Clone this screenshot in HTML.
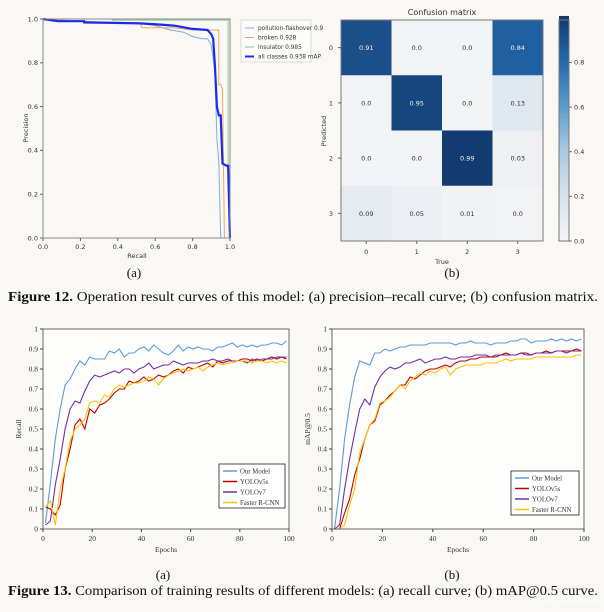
<!DOCTYPE html>
<html><head><meta charset="utf-8"><style>
html,body{margin:0;padding:0;background:#f9f8f4;}
svg{display:block}
.mpl{font-family:"DejaVu Sans","Liberation Sans",sans-serif;fill:#333}
.ser{font-family:"Liberation Serif",serif;fill:#333}
</style></head><body>
<svg id="s" width="604" height="612" viewBox="0 0 604 612" xmlns="http://www.w3.org/2000/svg">
<rect x="0" y="0" width="604" height="612" fill="#f9f8f4"/>
</svg>
<script>
// ---------- PR curve data ----------
const prClasses=["pollution-flashover 0.9","broken 0.928","insulator 0.985","all classes 0.938 mAP"];
const prColors=["#7fb0d8","#f5a35a","#8cc98c","#1a2bf0"];
const prRecall=[
[0,0.08,0.2,0.52,0.6,0.68,0.75,0.8,0.85,0.88,0.9,0.91,0.92,0.93,0.94,0.95],
[0,0.22,0.22,0.52,0.53,0.7,0.8,0.94,0.94,0.95,0.96,0.97],
[0,0.37,0.37,0.99,0.99,1.0],
[0,0.08,0.22,0.22,0.52,0.62,0.7,0.8,0.88,0.9,0.91,0.92,0.93,0.94,0.95,0.96,0.98,0.99,1.0]];
const prPrecision=[
[1,0.99,0.99,0.98,0.97,0.95,0.94,0.92,0.91,0.91,0.88,0.82,0.75,0.45,0.35,0],
[1,0.99,0.98,0.98,0.96,0.96,0.95,0.95,0.7,0.7,0.68,0],
[1,1,0.995,0.995,0.33,0],
[1,0.99,0.99,0.985,0.98,0.975,0.97,0.955,0.95,0.93,0.91,0.78,0.6,0.56,0.56,0.34,0.33,0.33,0]];
const prTicks=[0,0.2,0.4,0.6,0.8,1.0];
// ---------- Confusion matrix ----------
const cmLabels=["0","1","2","3"];
const cmValues=[[0.91,0.0,0.0,0.84],[0.0,0.95,0.0,0.13],[0.0,0.0,0.99,0.03],[0.09,0.05,0.01,0.0]];
const cbTicks=[0,0.2,0.4,0.6,0.8];
// ---------- Training curves ----------
const epochs=[1,3,5,7,9,11,13,15,17,19,21,23,25,27,29,31,33,35,37,39,41,43,45,47,49,51,53,55,57,59,61,63,65,67,69,71,73,75,77,79,81,83,85,87,89,91,93,95,97,99];
const seriesNames=["Our Model","YOLOv5s","YOLOv7","Faster R-CNN"];
const seriesColors=["#5b9bd5","#c00000","#7030a0","#ffc000"];
const recallOur=[0.03,0.23,0.45,0.6,0.72,0.75,0.8,0.84,0.82,0.86,0.85,0.85,0.85,0.89,0.88,0.9,0.86,0.88,0.88,0.9,0.91,0.89,0.92,0.9,0.88,0.87,0.89,0.92,0.89,0.91,0.9,0.91,0.9,0.9,0.89,0.91,0.91,0.92,0.93,0.91,0.92,0.91,0.92,0.91,0.92,0.92,0.93,0.93,0.92,0.94];
const recallV5=[0.11,0.1,0.07,0.12,0.3,0.4,0.52,0.55,0.5,0.6,0.58,0.62,0.63,0.65,0.68,0.7,0.7,0.74,0.73,0.74,0.76,0.74,0.75,0.77,0.76,0.77,0.79,0.8,0.78,0.81,0.8,0.81,0.82,0.83,0.81,0.84,0.83,0.84,0.84,0.84,0.85,0.85,0.84,0.85,0.84,0.85,0.86,0.85,0.86,0.85];
const recallV7=[0.02,0.04,0.22,0.35,0.5,0.6,0.64,0.63,0.69,0.74,0.77,0.76,0.77,0.78,0.79,0.78,0.8,0.8,0.78,0.8,0.81,0.83,0.8,0.81,0.82,0.82,0.84,0.83,0.82,0.83,0.83,0.83,0.84,0.84,0.85,0.84,0.84,0.85,0.84,0.84,0.84,0.83,0.85,0.84,0.85,0.85,0.85,0.86,0.86,0.86];
const recallFR=[0.11,0.14,0.02,0.2,0.3,0.44,0.5,0.52,0.55,0.63,0.64,0.63,0.67,0.66,0.7,0.72,0.71,0.72,0.73,0.73,0.74,0.76,0.75,0.72,0.75,0.77,0.78,0.79,0.8,0.79,0.8,0.81,0.79,0.81,0.82,0.83,0.82,0.83,0.83,0.84,0.84,0.84,0.83,0.84,0.84,0.83,0.84,0.83,0.84,0.83];
const mapOur=[0,0.2,0.45,0.62,0.76,0.84,0.83,0.82,0.88,0.88,0.9,0.89,0.9,0.91,0.91,0.92,0.92,0.92,0.92,0.93,0.93,0.93,0.93,0.93,0.92,0.93,0.93,0.94,0.93,0.93,0.93,0.92,0.93,0.93,0.93,0.94,0.94,0.95,0.95,0.93,0.94,0.94,0.94,0.95,0.94,0.95,0.94,0.95,0.94,0.95];
const mapV5=[0,0,0.08,0.15,0.27,0.35,0.45,0.52,0.54,0.62,0.64,0.67,0.69,0.72,0.72,0.76,0.75,0.77,0.79,0.8,0.8,0.81,0.82,0.81,0.83,0.84,0.84,0.85,0.85,0.86,0.86,0.86,0.86,0.87,0.88,0.87,0.87,0.88,0.88,0.87,0.88,0.88,0.89,0.88,0.89,0.89,0.89,0.89,0.9,0.89];
const mapV7=[0,0.02,0.2,0.35,0.48,0.6,0.65,0.62,0.71,0.76,0.79,0.81,0.8,0.81,0.83,0.83,0.84,0.85,0.83,0.84,0.85,0.85,0.86,0.85,0.85,0.86,0.86,0.86,0.87,0.87,0.87,0.86,0.87,0.87,0.87,0.87,0.87,0.88,0.87,0.87,0.88,0.88,0.88,0.88,0.89,0.89,0.88,0.89,0.89,0.89];
const mapFR=[0,0,0.02,0.12,0.2,0.38,0.45,0.52,0.55,0.63,0.64,0.66,0.69,0.72,0.7,0.74,0.76,0.78,0.77,0.79,0.78,0.8,0.81,0.77,0.8,0.81,0.82,0.82,0.82,0.82,0.83,0.83,0.83,0.84,0.85,0.84,0.85,0.85,0.85,0.85,0.86,0.86,0.86,0.86,0.86,0.86,0.86,0.86,0.87,0.87];
const xTicks=[0,20,40,60,80,100];
const yTicks=[0,0.1,0.2,0.3,0.4,0.5,0.6,0.7,0.8,0.9,1];

const svg=document.getElementById('s');
const NS="http://www.w3.org/2000/svg";
function mk(tag,attrs,parent,txt){const e=document.createElementNS(NS,tag);for(const k in attrs)e.setAttribute(k,attrs[k]);if(txt!==undefined)e.textContent=txt;(parent||svg).appendChild(e);return e;}
function grp(name){const g=mk('g',{});return g;}

// ===== PR chart =====
(function(){
 const g=grp('pr-curve-chart');
 const x0=43,x1=230,y0=238,y1=19;
 const sx=v=>x0+v*(x1-x0), sy=v=>y0-v*(y0-y1);
 for(let c=0;c<prClasses.length;c++){
  const pts=prRecall[c].map((r,i)=>sx(r).toFixed(1)+','+sy(prPrecision[c][i]).toFixed(1)).join(' ');
  const l=mk('polyline',{points:pts,fill:'none',stroke:prColors[c],'stroke-width':c===3?2.2:1},g);
  
  
 }
 mk('rect',{x:x0,y:y1,width:x1-x0,height:y0-y1,fill:'none',stroke:'#888','stroke-width':1},g);
 prTicks.forEach(t=>{
  mk('line',{x1:sx(t),x2:sx(t),y1:y0,y2:y0+3,stroke:'#666'},g);
  mk('text',{x:sx(t),y:y0+11,'text-anchor':'middle','font-size':6.5,class:'mpl'},g,t.toFixed(1));
  mk('line',{x1:x0-3,x2:x0,y1:sy(t),y2:sy(t),stroke:'#666'},g);
  mk('text',{x:x0-5,y:sy(t)+2.3,'text-anchor':'end','font-size':6.5,class:'mpl'},g,t.toFixed(1));
 });
 const xl=mk('text',{x:137,y:258,'text-anchor':'middle','font-size':6.5,class:'mpl'},g,'Recall');
 
 const yl=mk('text',{x:0,y:0,'text-anchor':'middle','font-size':6.5,class:'mpl',transform:'translate(28,128) rotate(-90)'},g,'Precision');
 
 const lg=mk('g',{},g);
 mk('rect',{x:241,y:20,width:70,height:42,fill:'#fcfcfa',stroke:'#ddd'},lg);
 prClasses.forEach((n,i)=>{const yy=28+i*9.5;
  mk('line',{x1:245,x2:254,y1:yy,y2:yy,stroke:prColors[i],'stroke-width':i===3?2:1},lg);
  mk('text',{x:258,y:yy+2.2,'font-size':5.8,class:'mpl'},lg,n);});
})();

// ===== Confusion matrix =====
(function(){
 const g=grp('confusion-matrix');
 const x0=341,x1=543,y0=20,y1=241,cw=(x1-x0)/4,ch=(y1-y0)/4;
 const stops=[[0,[242,243,244]],[0.2,[214,226,238]],[0.4,[168,200,224]],[0.6,[91,155,204]],[0.8,[36,104,173]],[1,[17,58,110]]];
 const col=v=>{for(let i=1;i<stops.length;i++){if(v<=stops[i][0]){const a=stops[i-1],b=stops[i],t=(v-a[0])/(b[0]-a[0]);return 'rgb('+a[1].map((c,k)=>Math.round(c+(b[1][k]-c)*t)).join(',')+')';}}return 'rgb(17,58,110)';};
 mk('text',{x:(x0+x1)/2,y:15,'text-anchor':'middle','font-size':8,class:'mpl'},g,'Confusion matrix');
 cmValues.forEach((row,r)=>row.forEach((v,c)=>{
  const cell=mk('rect',{x:x0+c*cw,y:y0+r*ch,width:cw+0.5,height:ch+0.5,fill:col(v)},g);
  
  mk('text',{x:x0+c*cw+cw/2,y:y0+r*ch+ch/2+2.5,'text-anchor':'middle','font-size':6.5,class:'mpl',style:'fill:'+(v>0.5?'#f0f0f0':'#333')},g,v.toFixed(2).replace(/^0\.00$/,'0.0').replace(/^0\.(\d)0$/,'0.$1'));
 }));
 mk('rect',{x:x0,y:y0,width:x1-x0,height:y1-y0,fill:'none',stroke:'#777'},g);
 cmLabels.forEach((l,i)=>{
  mk('text',{x:x0+i*cw+cw/2,y:y1+13,'text-anchor':'middle','font-size':6.5,class:'mpl'},g,l);
  mk('line',{x1:x0+i*cw+cw/2,x2:x0+i*cw+cw/2,y1:y1,y2:y1+3,stroke:'#666'},g);
  mk('text',{x:x0-8,y:y0+i*ch+ch/2+2.5,'text-anchor':'end','font-size':6.5,class:'mpl'},g,l);
  mk('line',{x1:x0-3,x2:x0,y1:y0+i*ch+ch/2,y2:y0+i*ch+ch/2,stroke:'#666'},g);
 });
 mk('text',{x:442,y:264,'text-anchor':'middle','font-size':6.5,class:'mpl'},g,'True');
 mk('text',{x:0,y:0,'text-anchor':'middle','font-size':6.5,class:'mpl',transform:'translate(326,131) rotate(-90)'},g,'Predicted');
 const cb=mk('g',{},g);
 const cbx=559,cbw=10,vmax=0.99,cy=v=>y1-v/vmax*(y1-y0);
 for(let i=0;i<60;i++){const v=i/59*vmax;mk('rect',{x:cbx,y:cy(v)-(y1-y0)/59-0.3,width:cbw,height:(y1-y0)/59+0.6,fill:col(v)},cb);}
 mk('rect',{x:cbx,y:y0,width:cbw,height:y1-y0,fill:'none',stroke:'#777'},cb);
 cbTicks.forEach(t=>{mk('line',{x1:cbx+cbw,x2:cbx+cbw+3,y1:cy(t),y2:cy(t),stroke:'#666'},cb);
  mk('text',{x:cbx+cbw+5,y:cy(t)+2.3,'font-size':6.5,class:'mpl'},cb,t.toFixed(1));});
})();

// ===== Training charts =====
function trainChart(name,x0,x1,yLabel,data,lg){
 const g=grp(name);
 const yb=529,yt=329;
 const sx=v=>x0+v/100*(x1-x0), sy=v=>yb-v*(yb-yt);
 mk('rect',{x:x0,y:yt,width:x1-x0,height:yb-yt,fill:'#fdfdfb'},g);
 data.forEach((d,i)=>{
  const pts=epochs.map((e,k)=>sx(e).toFixed(1)+','+sy(d[k]).toFixed(1)).join(' ');
  const l=mk('polyline',{points:pts,fill:'none',stroke:seriesColors[i],'stroke-width':1.1},g);
  
 });
 mk('rect',{x:x0,y:yt,width:x1-x0,height:yb-yt,fill:'none',stroke:'#444','stroke-width':0.8},g);
 xTicks.forEach(t=>{mk('line',{x1:sx(t),x2:sx(t),y1:yb,y2:yb+3,stroke:'#444'},g);
  mk('text',{x:sx(t),y:yb+12,'text-anchor':'middle','font-size':7.5,class:'ser'},g,t);});
 yTicks.forEach(t=>{mk('line',{x1:x0-3,x2:x0,y1:sy(t),y2:sy(t),stroke:'#444'},g);
  mk('text',{x:x0-5,y:sy(t)+2.5,'text-anchor':'end','font-size':7.5,class:'ser'},g,+t.toFixed(1));});
 mk('text',{x:(x0+x1)/2,y:552,'text-anchor':'middle','font-size':7.5,class:'ser'},g,'Epochs');
 mk('text',{x:0,y:0,'text-anchor':'middle','font-size':7.5,class:'ser',transform:'translate('+(x0-22)+',429) rotate(-90)'},g,yLabel);
 const L=mk('g',{},g);
 mk('rect',{x:lg[0],y:lg[1],width:lg[2],height:44,fill:'#fff',stroke:'#222','stroke-width':0.8},L);
 seriesNames.forEach((n,i)=>{const yy=lg[1]+7+i*10.5;
  mk('line',{x1:lg[0]+4,x2:lg[0]+18,y1:yy,y2:yy,stroke:seriesColors[i],'stroke-width':1.5},L);
  mk('text',{x:lg[0]+21,y:yy+2.5,'font-size':6.8,class:'ser'},L,n);});
}
trainChart('recall-chart',43,289,'Recall',[recallOur,recallV5,recallV7,recallFR],[219,464,66]);
trainChart('map-chart',332,584,'mAP@0.5',[mapOur,mapV5,mapV7,mapFR],[511,471,68]);

// ===== captions =====
function cap(x,y,t,name){const e=mk('text',{x:x,y:y,'text-anchor':'middle','font-size':13,class:'ser',style:'fill:#111'},svg,t);}
cap(134,277,'(a)','caption-a-top');cap(452,277,'(b)','caption-b-top');
cap(163,579,'(a)','caption-a-bottom');cap(452,579,'(b)','caption-b-bottom');
function figcap(y,bold,rest,name){const e=mk('text',{x:8,y:y,'font-size':13.5,class:'ser',style:'fill:#111',textLength:590,lengthAdjust:'spacingAndGlyphs'});
 
 mk('tspan',{'font-weight':'bold'},e,bold);mk('tspan',{},e,rest);}
figcap(301,'Figure 12.',' Operation result curves of this model: (a) precision–recall curve; (b) confusion matrix.','figure-12-caption');
figcap(595,'Figure 13.',' Comparison of training results of different models: (a) recall curve; (b) mAP@0.5 curve.','figure-13-caption');
const wm=mk('text',{x:598,y:604,'text-anchor':'end','font-size':9,class:'mpl',style:'fill:#ffffff;opacity:0.8'},svg,'CSDN @Jolsine');

</script>
</body></html>
